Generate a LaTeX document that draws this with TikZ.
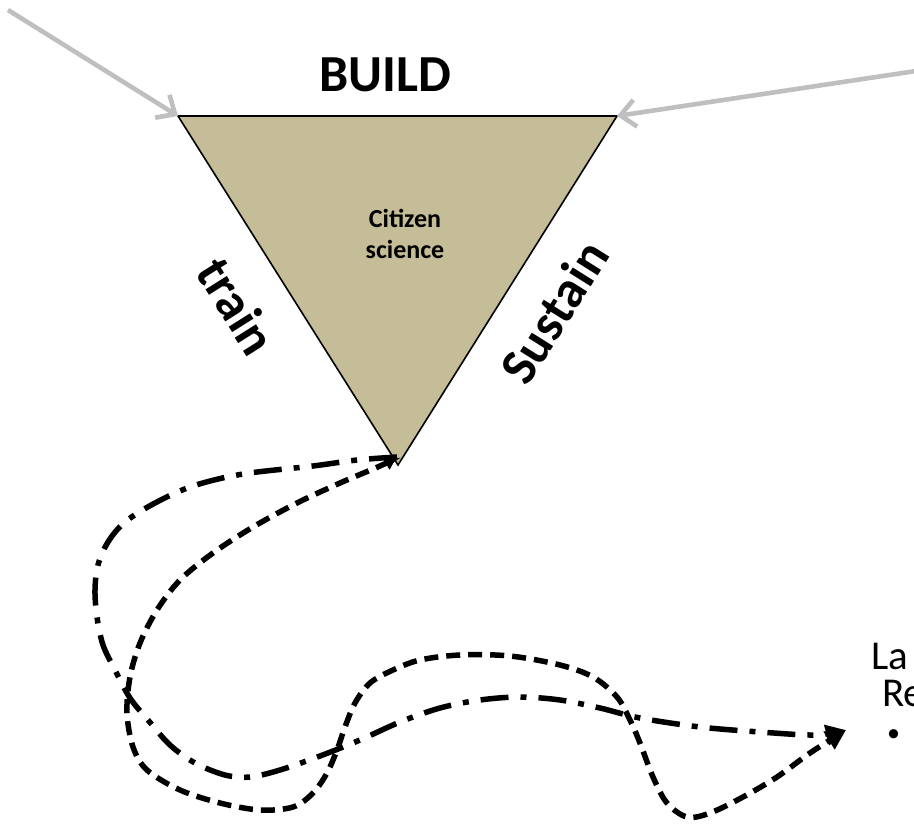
\documentclass[tikz,border=0pt]{standalone}
\usepackage{fontspec}
\setmainfont{Carlito}
\usetikzlibrary{arrows.meta}
\definecolor{tanfill}{HTML}{C4BD97}
\colorlet{feedgray}{black!25}

\begin{document}
\begin{tikzpicture}[x=1pt,y=-1pt,
        feed/.style={feedgray, line width=4.6pt, -{Straight Barb[length=15pt,width=27pt]}},
        sidelabel/.style={font=\bfseries\fontsize{52}{60}\selectfont},
        looplabel/.style={font=\fontsize{41}{48}\selectfont, anchor=base west, inner sep=0pt},
        loopdash/.style={line width=5.5pt, dash pattern=on 14pt off 8pt},
        loopdot/.style={line width=5.5pt, dash pattern=on 28pt off 12pt on 6pt off 12pt}]
        \useasboundingbox (0,0) rectangle (914,829);
        % triangle
        \coordinate (tl) at (178,116);
        \coordinate (tr) at (617,116);
        \coordinate (bt) at (398,465);
        \filldraw[fill=tanfill, draw=black, line width=1.6pt, line join=miter](tl)--(tr)--(bt)--cycle;
        \node[font=\bfseries\fontsize{26}{31}\selectfont, align=center] (cs) at (405,234) {Citizen\\science};
        \node[sidelabel] (build) at (385,75) {BUILD};
        \node[sidelabel, rotate=-57.8] (train) at (237,306) {train};
        \node[sidelabel, rotate=57.9] (sustain) at (554,312) {Sustain};
        % incoming arrows
        \coordinate (lin) at (8,10);
        \coordinate (rin) at (916,71);
        \draw[feed](lin)--(tl);
        \draw[feed](rin)--(tr);
        % text at the right edge
        \node[looplabel] (la) at (871,669) {La};
        \node[looplabel] (re) at (882,706) {Re};
        \node[looplabel, font=\fontsize{26}{30}\selectfont] (dot) at (887,741) {•};
        % loops from the tip
        \coordinate (tip) at (397,457);
        \coordinate (goal) at (846,730);
        \draw[loopdot, -{Triangle[length=20pt,width=20pt]}] plot[smooth, tension=0.55] coordinates {(tip) (357,460) (313,466) (243,474) (193,486) (155,503) (125,522) (108,542) (98,565) (95,590) (97,617) (103,645) (115,670) (130,698) (148,720) (170,745) (195,763) (225,775) (250,777) (280,770) (320,756) (360,740) (400,722) (440,708) (480,700) (520,697) (560,700) (600,708) (640,718) (700,727) (760,732) (815,735) (goal)};
        \draw[loopdash, {Triangle[length=13pt,width=13pt]}-{Triangle[length=20pt,width=20pt]}] plot[smooth, tension=0.55] coordinates {(tip) (380,466) (340,483) (297,503) (253,527) (213,553) (180,580) (157,610) (140,643) (130,677) (127,713) (133,747) (147,770) (180,790) (220,803) (260,810) (293,807) (313,793) (327,773) (337,750) (345,727) (355,703) (370,683) (393,670) (420,660) (460,655) (510,656) (560,665) (593,677) (617,697) (630,720) (640,743) (653,777) (667,803) (687,817) (710,813) (743,797) (777,777) (810,753) (goal)};
\end{tikzpicture}
\end{document}
